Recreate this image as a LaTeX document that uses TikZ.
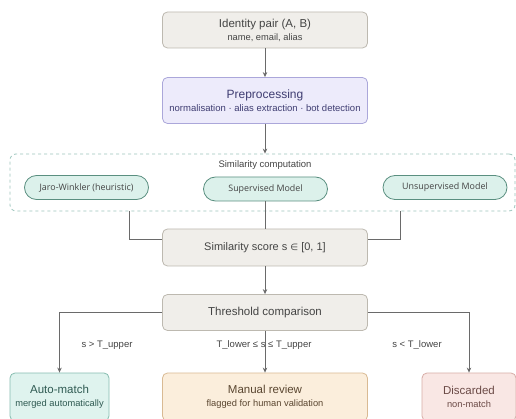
\documentclass[tikz,border=0pt]{standalone}
\usepackage{fontspec}
\setmainfont{Liberation Sans}
\newfontfamily\pillfont{Open Sans}
\newfontfamily\dvfont{DejaVu Sans}
\usetikzlibrary{arrows.meta,calc}
\definecolor{grayfill}{HTML}{F0EEEA}
\definecolor{grayline}{HTML}{BDB9B0}
\definecolor{prefill}{HTML}{EDEBFB}
\definecolor{preline}{HTML}{ABA7DA}
\definecolor{pretext}{HTML}{3F3D72}
\definecolor{pillfill}{HTML}{DCF1EB}
\definecolor{pillline}{HTML}{5A8F80}
\definecolor{grpline}{HTML}{9CC5BD}
\definecolor{autofill}{HTML}{DFF3EE}
\definecolor{autoline}{HTML}{86BDB0}
\definecolor{autotext}{HTML}{2F5A52}
\definecolor{manfill}{HTML}{FBEEDC}
\definecolor{manline}{HTML}{D9BA93}
\definecolor{mantext}{HTML}{5A4630}
\definecolor{disfill}{HTML}{F9E7E4}
\definecolor{disline}{HTML}{D7ADA7}
\definecolor{distext}{HTML}{6B4A46}
\definecolor{txt}{HTML}{444444}
\definecolor{conn}{HTML}{6A6A6A}
\tikzset{
  box/.style={draw=grayline, fill=grayfill, rounded corners=5pt, line width=0.8pt,
    minimum width=205pt, minimum height=36pt, align=center, text=txt, inner sep=0pt},
  pill/.style={draw=pillline, fill=pillfill, rounded corners=12pt, line width=0.8pt,
    minimum width=124pt, minimum height=24pt, text=txt, font=\pillfont\fontsize{8.9}{10}\selectfont, inner sep=0pt},
  conline/.style={draw=conn, line width=1pt},
  arr/.style={conline, -{Stealth[length=5pt,width=4.5pt]}},
  lbl/.style={text=txt, font=\fontsize{9.5}{11}\selectfont},
}
\newcommand{\ttlsize}{\fontsize{11.5}{13}\selectfont}
\newcommand{\subsize}{\fontsize{9.3}{11}\selectfont}
\begin{document}
\begin{tikzpicture}[x=1pt,y=-1pt]
\useasboundingbox[fill=white] (0,0) rectangle (516,419);

\node[box] (idp) at (265,30) {{\ttlsize Identity pair (A, B)}\\[1pt]{\subsize name, email, alias}};
\node[box, draw=preline, fill=prefill, text=pretext, minimum height=46pt] (pre) at (265,100.5)
  {{\fontsize{12}{14}\selectfont Preprocessing}\\[1pt]{\fontsize{9.5}{11}\selectfont normalisation · alias extraction · bot detection}};

\node[draw=grpline, dashed, rounded corners=6pt, line width=0.8pt, minimum width=505pt, minimum height=57pt, inner sep=0pt] (grp) at (262.5,182.5) {};
\node[lbl, font=\fontsize{9.5}{11}\selectfont] (grplbl) at (265,165) {Similarity computation};

\node[pill] (jw) at (86.5,187.5) {Jaro-Winkler (heuristic)};
\node[pill] (sup) at (265.5,189) {Supervised Model};
\node[pill] (uns) at (445,187.5) {Unsupervised Model};

\node[box, minimum height=37pt] (score) at (265,247.5) {{\fontsize{11}{13}\selectfont Similarity score s {\dvfont\fontsize{9}{11}\selectfont ∈} [0, 1]}};
\node[box] (thr) at (265,312.5) {{\ttlsize Threshold comparison}};

\node[box, draw=autoline, fill=autofill, text=autotext, minimum width=99pt, minimum height=48pt] (auto) at (59.5,397)
  {{\ttlsize Auto-match}\\[1pt]{\subsize merged automatically}};
\node[box, draw=manline, fill=manfill, text=mantext, minimum height=48pt] (man) at (265,397)
  {{\ttlsize Manual review}\\[1pt]{\subsize flagged for human validation}};
\node[box, draw=disline, fill=disfill, text=distext, minimum width=94pt, minimum height=48pt] (dis) at (469,397)
  {{\ttlsize Discarded}\\[1pt]{\subsize non-match}};

% connectors
\draw[arr] (idp.south) -- (pre.north);
\draw[arr] (pre.south) -- (pre.south |- grp.north);

\coordinate (jwb) at (129,211);
\coordinate (jwc) at (129,240);
\coordinate (unb) at (400,211);
\coordinate (unc) at (400,240);
\draw[conline] (jwb) -- (jwc) -- (jwc -| score.west);
\draw[conline] (sup.south -| score.north) -- (score.north);
\draw[conline] (unb) -- (unc) -- (unc -| score.east);

\draw[arr] (score.south) -- (thr.north);
\draw[arr] (thr.west) -| (auto.north);
\draw[arr] (thr.south) -- (man.north);
\draw[arr] (thr.east) -| (dis.north);

\node[lbl] (l1) at (107,345) {s > T\_upper};
\node[lbl] (l2) at (264,345) {T\_lower ≤ s ≤ T\_upper};
\node[lbl] (l3) at (417,345) {s < T\_lower};
\end{tikzpicture}
\end{document}
